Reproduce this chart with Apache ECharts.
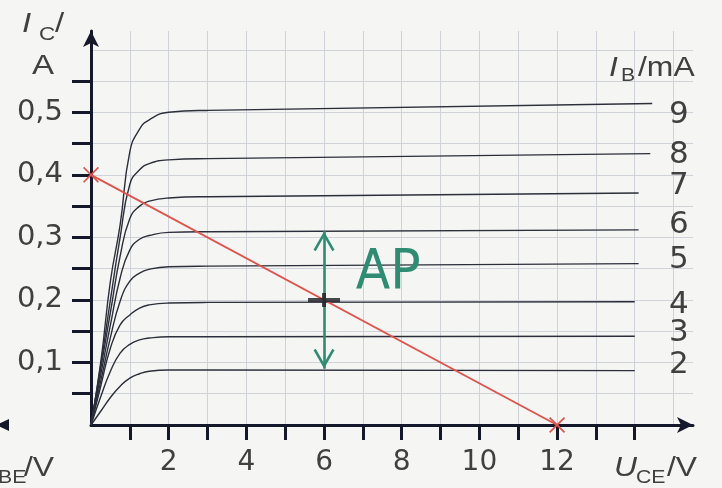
<!DOCTYPE html>
<html>
<head>
<meta charset="utf-8">
<script src="https://cdn.jsdelivr.net/npm/echarts@6/dist/echarts.min.js"></script>
<style>
  html, body { margin: 0; background: #f5f5f3; }
  #chart { width: 722px; height: 488px; }
</style>
</head>
<body>
<div id="chart"></div>
<script>
// Transistor output characteristic: I_C over U_CE for base currents 2..9 mA,
// with load line (12 V / 0.4 A) and operating point AP.

const ibLevels = [2, 3, 4, 5, 6, 7, 8, 9];                 // I_B / mA
const uKnee = [0, 0.25, 0.5, 0.75, 1, 1.25, 1.5, 2, 3];     // U_CE / V, rising part
const ic2 = [0, 0.022, 0.044, 0.062, 0.075, 0.082, 0.086, 0.088, 0.088];
const ic3 = [0, 0.045, 0.086, 0.115, 0.129, 0.136, 0.139, 0.141, 0.141];
const ic4 = [0, 0.062, 0.123, 0.160, 0.176, 0.187, 0.192, 0.195, 0.196];
const ic5 = [0, 0.070, 0.140, 0.198, 0.230, 0.243, 0.249, 0.253, 0.254];
const ic6 = [0, 0.080, 0.160, 0.235, 0.280, 0.297, 0.303, 0.308, 0.309];
const ic7 = [0, 0.090, 0.180, 0.270, 0.330, 0.350, 0.358, 0.363, 0.365];
const ic8 = [0, 0.095, 0.200, 0.300, 0.385, 0.408, 0.418, 0.424, 0.426];
const ic9 = [0, 0.100, 0.230, 0.320, 0.437, 0.473, 0.488, 0.500, 0.503];
const uEnd = [14.0, 14.0, 14.0, 14.1, 14.1, 14.1, 14.4, 14.45];   // where each line stops
const icEnd = [0.087, 0.142, 0.197, 0.258, 0.312, 0.371, 0.434, 0.514];

const loadLine = [[0, 0.4], [12, 0]];
const operatingPoint = [6, 0.2];
const apSpan = [0.31, 0.09];          // green double arrow at U_CE = 6 V
const apLabelAt = [7.65, 0.242];

const uTicks = [1, 2, 3, 4, 5, 6, 7, 8, 9, 10, 11, 12, 13, 14];
const uLabels = [2, 4, 6, 8, 10, 12];
const icTicks = [0.05, 0.1, 0.15, 0.2, 0.25, 0.3, 0.35, 0.4, 0.45, 0.5, 0.55];
const icLabels = [0.1, 0.2, 0.3, 0.4, 0.5];

const icCurves = [ic2, ic3, ic4, ic5, ic6, ic7, ic8, ic9];

// layout
const G = { left: 91, right: 29, top: 31, bottom: 63 };
const U_MAX = 15.5, I_MAX = 0.63;
const pxPerV = (722 - G.left - G.right) / U_MAX;
const LABEL_X = 669;                              // left edge of the I_B numbers
const labelDy = [-6, -3, 3, -4, -5, -7, 1, 11];

const FONT = "'Liberation Sans', Arial, sans-serif";
const NUMFONT = "'DejaVu Sans', " + FONT;         // wider digits, like the scan
const INK = "#15172a";
const TXT = "#404040";
const CURVE = "#2c2f3a";
const GRIDC = "#cfd2d8";
const RED = "#e0544d";
const GREEN = "#2f8c72";

const cross = "path://M0,1.5L1.5,0L10,8.5L18.5,0L20,1.5L11.5,10L20,18.5L18.5,20L10,11.5L1.5,20L0,18.5L8.5,10Z";
const plus = "path://M0,5L14,5L14,0L18,0L18,5L32,5L32,9L18,9L18,14L14,14L14,9L0,9Z";
// open chevron in a 40x40 box, apex at the centre so the line ends at the tip
const chevron = "path://M0,0L0.01,0L0,0.01ZM40,0L39.99,0L40,0.01Z" +
  "M20,20L30.5,38L28.3,39.4L20,25L11.7,39.4L9.5,38Z";

const curveSeries = ibLevels.map((ib, i) => ({
  name: String(ib),
  type: "line",
  xAxisIndex: 0, yAxisIndex: 0,
  data: uKnee.map((u, k) => [u, icCurves[i][k]]).concat([[uEnd[i], icEnd[i]]]),
  smooth: 0.5,
  showSymbol: false,
  silent: true,
  lineStyle: { color: CURVE, width: 1.4 },
  endLabel: {
    show: true,
    formatter: "{a}",
    distance: 0,
    offset: [LABEL_X - (G.left + uEnd[i] * pxPerV), labelDy[i]],
    fontFamily: NUMFONT, fontSize: 31, color: TXT,
  },
  z: 3,
}));

const gridAxis = (extra) => Object.assign({
  type: "value", min: 0,
  axisLine: { show: false }, axisTick: { show: false }, axisLabel: { show: false },
  splitLine: { show: true, showMinLine: false, showMaxLine: false, lineStyle: { color: GRIDC, width: 1 } },
}, extra);

// axis titles are drawn a little wider, as in the scanned original
const title = (left, top, text, font) => ({
  type: "text", left, top, scaleX: 1.18,
  style: { text, font: font + FONT, fill: TXT },
});

const chart = echarts.init(document.getElementById("chart"), null, { renderer: "canvas" });
chart.setOption({
  backgroundColor: "#f5f5f3",
  animation: false,
  grid: G,
  xAxis: [
    {
      type: "value", min: 0, max: U_MAX,
      axisLine: { show: true, onZero: false, symbol: ["none", "arrow"], symbolSize: [12, 16], lineStyle: { color: INK, width: 3 } },
      axisTick: { show: true, customValues: uTicks, length: 15, lineStyle: { color: INK, width: 3 } },
      axisLabel: { customValues: uLabels, margin: 24, fontFamily: NUMFONT, fontSize: 28, color: TXT },
      splitLine: { show: false },
    },
    gridAxis({ max: U_MAX, interval: 1, position: "top" }),
  ],
  yAxis: [
    {
      type: "value", min: 0, max: I_MAX,
      axisLine: { show: true, onZero: false, symbol: ["none", "arrow"], symbolSize: [12, 16], lineStyle: { color: INK, width: 3 } },
      axisTick: { show: true, customValues: icTicks, length: 19, lineStyle: { color: INK, width: 3 } },
      axisLabel: {
        customValues: icLabels, margin: 28, fontFamily: NUMFONT, fontSize: 29, color: TXT,
        formatter: v => v.toFixed(1).replace(".", ","),
      },
      splitLine: { show: false },
    },
    gridAxis({ max: I_MAX, interval: 0.05, position: "right" }),
  ],
  series: [
    ...curveSeries,
    {
      name: "Arbeitsgerade",
      type: "line",
      data: loadLine,
      symbol: cross, symbolSize: 16, showSymbol: true,
      itemStyle: { color: RED },
      lineStyle: { color: RED, width: 1.8 },
      silent: true,
      z: 4,
    },
    {
      name: "AP",
      type: "scatter",
      data: [operatingPoint],
      symbol: plus, symbolSize: [32, 14],
      itemStyle: { color: "#1b1b22" },
      silent: true,
      z: 6,
      markLine: {
        silent: true,
        symbol: [chevron, chevron],
        symbolSize: 40,
        label: { show: false },
        lineStyle: { color: GREEN, width: 2.6, type: "solid" },
        data: [[{ coord: [operatingPoint[0], apSpan[0]] }, { coord: [operatingPoint[0], apSpan[1]] }]],
      },
      markPoint: {
        silent: true,
        symbol: "circle", symbolSize: 1,
        itemStyle: { color: "rgba(0,0,0,0)" },
        label: {
          show: true, position: "inside", formatter: "AP",
          fontFamily: "'DejaVu Sans Condensed', 'Liberation Sans Narrow', " + FONT,
          fontSize: 56, fontWeight: "normal", color: GREEN,
        },
        data: [{ coord: apLabelAt }],
      },
    },
  ],
  graphic: [
    // I_C / A
    title(22, 10, "I", "italic 28px "),
    title(39, 25, "C", "19px "),
    title(55, 10, "/", "28px "),
    title(32, 52, "A", "28px "),
    // I_B /mA
    title(609, 55, "I", "italic 27px "),
    title(621, 67, "B", "18px "),
    title(638, 55, "/mA", "27px "),
    // U_CE /V
    title(614, 455, "U", "italic 27px "),
    title(636, 469, "CE", "18px "),
    title(667, 455, "/V", "27px "),
    // cut-off U_BE /V of the neighbouring diagram
    title(-2, 469, "BE", "18px "),
    title(24, 455, "/V", "27px "),
    { type: "polygon", shape: { points: [[-4, 425], [9, 419], [9, 431]] }, style: { fill: INK } },
  ],
});
</script>
</body>
</html>
